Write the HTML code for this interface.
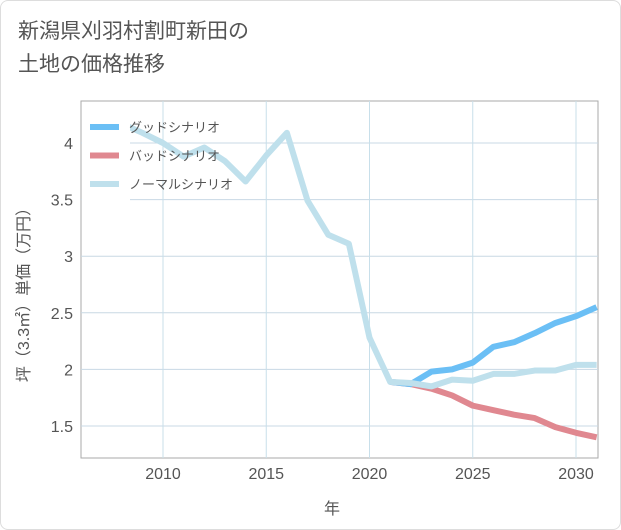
<!DOCTYPE html>
<html><head><meta charset="utf-8">
<style>
body{margin:0;background:#fff;}
#card{position:absolute;left:0;top:0;width:619px;height:528px;border:1px solid #ddd;border-radius:8px;background:#fff;overflow:hidden;font-family:"Liberation Sans","Noto Sans CJK JP",sans-serif;}
#title{position:absolute;left:17px;top:14px;font-size:21px;line-height:33px;color:#555;}
svg text{font-family:"Liberation Sans","Noto Sans CJK JP",sans-serif;}
</style></head>
<body>
<div id="card">
<div id="title">新潟県刈羽村割町新田の<br>土地の価格推移</div>
<svg id="chart" width="621" height="530" style="position:absolute;left:0;top:0"></svg>
</div>
<script>
const years=[2008,2009,2010,2011,2012,2013,2014,2015,2016,2017,2018,2019,2020,2021,2022,2023,2024,2025,2026,2027,2028,2029,2030,2031];
const normal=[4.17,4.09,4.0,3.88,3.96,3.84,3.66,3.89,4.09,3.49,3.19,3.11,2.28,1.89,1.88,1.85,1.91,1.9,1.96,1.96,1.99,1.99,2.04,2.04];
const goodYears=[2021,2022,2023,2024,2025,2026,2027,2028,2029,2030,2031];
const good=[1.89,1.87,1.98,2.0,2.06,2.2,2.24,2.32,2.41,2.47,2.55];
const bad=[1.89,1.87,1.83,1.77,1.68,1.64,1.6,1.57,1.49,1.44,1.40];
const xTicks=[2010,2015,2020,2025,2030];
const yTicks=[1.5,2,2.5,3,3.5,4];
const L=80,R=597,T=100,B=457;
const x=v=>162+(v-2010)*20.65;
const y=v=>142+(4-v)*113.2;
const svg=document.getElementById('chart');
const NS='http://www.w3.org/2000/svg';
function mk(t,a){const e=document.createElementNS(NS,t);for(const k in a)e.setAttribute(k,a[k]);svg.appendChild(e);return e;}
let e;
e=mk('rect',{x:L,y:T,width:R-L,height:B-T,fill:'#fff',stroke:'#aaa','stroke-width':1});


yTicks.forEach(t=>{
 e=mk('line',{x1:L,x2:R,y1:y(t),y2:y(t),stroke:'#c8d8e4','stroke-width':1});
 
 
 e=mk('text',{x:L-8,y:y(t)+6,'text-anchor':'end','font-size':16,fill:'#555'});e.textContent=String(t);
 
 
});
xTicks.forEach(t=>{
 e=mk('line',{x1:x(t),x2:x(t),y1:T,y2:B,stroke:'#c8dfea','stroke-width':1});
 
 
 e=mk('text',{x:x(t),y:B+21,'text-anchor':'middle','font-size':16,fill:'#555'});e.textContent=String(t);
 
 
});
function line(xs,vs,col,name){
 const p=mk('polyline',{points:xs.map((v,i)=>x(v)+','+y(vs[i])).join(' '),fill:'none',stroke:col,'stroke-width':6,'stroke-linejoin':'round'});
 
 
}
line(goodYears,bad,'#e08890','bad-scenario-line');
line(goodYears,good,'#6bbff5','good-scenario-line');
line(years,normal,'#bfe0ec','normal-scenario-line');
e=mk('rect',{x:L+1,y:T+5,width:48,height:95,fill:'#fff'});


const leg=[['グッドシナリオ','#6bbff5'],['バッドシナリオ','#e08890'],['ノーマルシナリオ','#bfe0ec']];
leg.forEach((l,i)=>{
 const yy=126+i*28.5;
 e=mk('line',{x1:89,x2:118,y1:yy,y2:yy,stroke:l[1],'stroke-width':6});
 
 
 e=mk('text',{x:128,y:yy+5,'font-size':13,fill:'#555'});e.textContent=l[0];
 
 
});
e=mk('text',{x:331,y:513,'text-anchor':'middle','font-size':16,fill:'#555'});e.textContent='年';


e=mk('text',{x:0,y:0,'text-anchor':'middle','font-size':16,fill:'#555',transform:'translate(28,290) rotate(-90)'});e.textContent='坪（3.3㎡）単価（万円）';


</script>
</body></html>
